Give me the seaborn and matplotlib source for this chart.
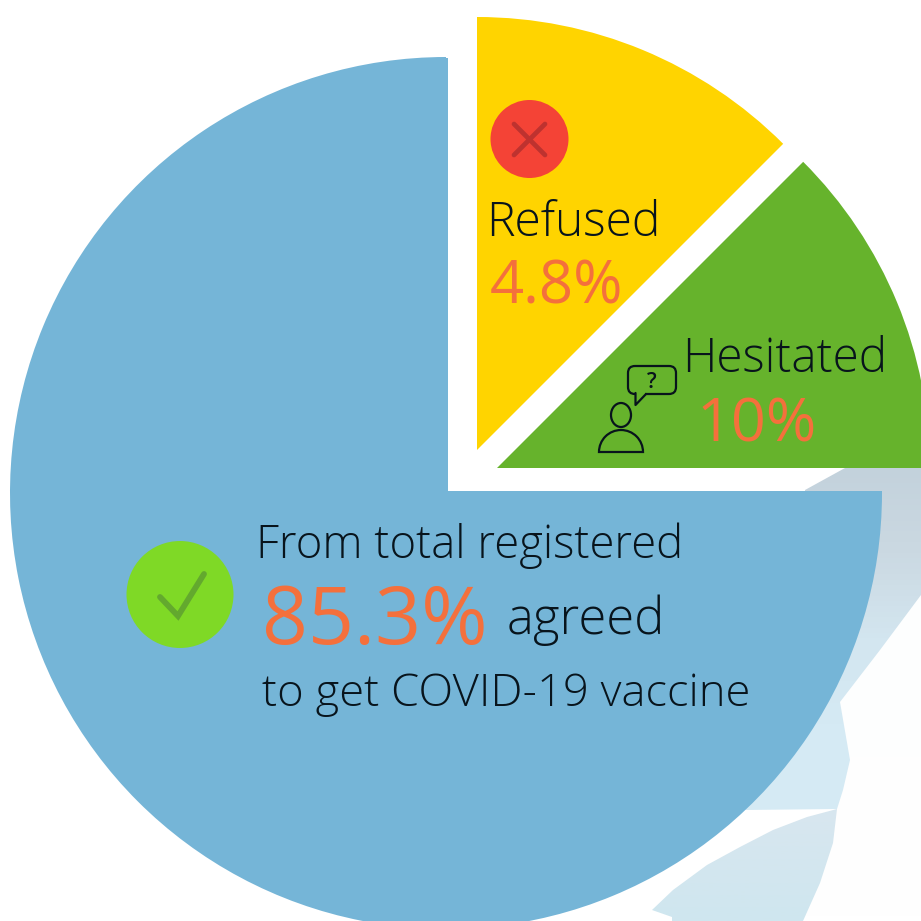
#!/usr/bin/env python3
"""Vaccine acceptance pie with exploded slices and painted-on labels."""

import numpy as np
import matplotlib
matplotlib.use('Agg')
import matplotlib.pyplot as plt
import seaborn as sns
from matplotlib.colors import LinearSegmentedColormap
from matplotlib.patches import Circle, Ellipse, FancyBboxPatch, Polygon, Rectangle, Wedge

# Slice sizes as drawn (the picture is not to scale with its printed numbers)
SLICE_NAMES = ['Agreed', 'Hesitated', 'Refused']
SLICE_SIZES = [75, 12.5, 12.5]
SLICE_COLORS = ['#75B5D7', '#66B32C', '#FFD400']

LABEL_TOTAL = 'From total registered'
LABEL_AGREED = '85.3%'
LABEL_AGREED_WORD = 'agreed'
LABEL_VACCINE = 'to get COVID-19 vaccine'
LABEL_REFUSED = 'Refused'
VALUE_REFUSED = '4.8%'
LABEL_HESITATED = 'Hesitated'
VALUE_HESITATED = '10%'

ORANGE = '#F4703C'
INK = '#08141C'
SIZE = 921


def py(y):
    """Pixel row of the 921 canvas to data y."""
    return SIZE - y


def pts(points):
    return [(x, py(y)) for x, y in points]


def gradient_shape(ax, points, colors):
    # faint mask photo behind the pie, gradient clipped to its outline
    cmap = LinearSegmentedColormap.from_list('mask', colors)
    ys = [p[1] for p in points]
    patch = Polygon(pts(points), closed=True, fc='none', ec='none')
    ax.add_patch(patch)
    im = ax.imshow(np.linspace(0, 1, 64).reshape(-1, 1), cmap=cmap, aspect='auto',
                   extent=(0, SIZE, py(max(ys)), py(min(ys))), zorder=0.5)
    im.set_clip_path(patch)


def draw_background(ax):
    gradient_shape(ax, [(840, 702), (921, 595), (921, 921), (803, 921), (837, 809),
                        (843, 790), (850, 760)],
                   ['#FDFEFE', '#FFFFFF'])
    gradient_shape(ax, [(805, 490), (845, 468), (921, 468), (921, 595), (880, 650), (840, 702),
                        (850, 760), (843, 790), (837, 809), (745, 810), (800, 700)],
                   ['#C3D2DC', '#CBD9E2', '#D3E6F0', '#D5EAF4', '#D5EAF4'])
    gradient_shape(ax, [(652, 910), (673, 890), (707, 865), (740, 847), (773, 830), (807, 817),
                        (837, 809), (833, 843), (820, 883), (803, 921), (672, 921), (672, 917)],
                   ['#D8E7EF', '#CFE6EF'])


def draw_icons(ax):
    # refused: red disc with a cross
    ax.add_patch(Circle((529.5, py(139)), 39, fc='#F44336', ec='none', zorder=4))
    for a, b in [((514, 124), (545, 155)), ((545, 124), (514, 155))]:
        ax.plot([a[0], b[0]], [py(a[1]), py(b[1])], color='#BE322F', lw=3.4,
                solid_capstyle='round', zorder=5)

    # agreed: green disc with a tick
    ax.add_patch(Circle((180, py(594.5)), 53.5, fc='#7FD926', ec='none', zorder=4))
    ax.plot([160, 178, 204], [py(597), py(616), py(574)], color='#63A92E', lw=4.2,
            solid_capstyle='round', solid_joinstyle='miter', zorder=5)

    # hesitated: person with a speech bubble
    lw = 1.6
    ax.add_patch(Ellipse((621, py(415)), 20, 24, fc='none', ec=INK, lw=lw, zorder=5))
    ax.add_patch(Wedge((621, py(452)), 22, 0, 180, fc='none', ec=INK, lw=lw, zorder=5))
    ax.add_patch(FancyBboxPatch((633, py(389)), 38, 18, boxstyle='round,pad=5,rounding_size=7',
                                fc='none', ec=INK, lw=lw, zorder=5))
    ax.add_patch(Polygon(pts([(636, 392), (636, 396), (645, 396), (645, 392)]), closed=True,
                         fc=SLICE_COLORS[1], ec='none', zorder=6))
    ax.plot([635.5, 635.5, 646], [py(393), py(405), py(394)], color=INK, lw=lw, zorder=7)
    ax.text(652, py(387.5), '?', fontsize=15.5, color=INK, ha='center', va='baseline',
            family='Open Sans', weight='semibold', zorder=7)


def main():
    sns.set_theme(style='white')
    plt.rcParams['font.family'] = ['Open Sans', 'DejaVu Sans']

    fig = plt.figure(figsize=(SIZE / 100, SIZE / 100), dpi=100, facecolor='white')
    ax = fig.add_axes([0, 0, 1, 1])

    wedges, _ = ax.pie(SLICE_SIZES, colors=SLICE_COLORS, startangle=90, counterclock=True,
                       radius=436, center=(446, py(493)),
                       wedgeprops={'linewidth': 0, 'zorder': 2})
    # slices are pulled out by hand, not along their bisector
    wedges[1].set_center((497, py(468)))
    wedges[1].set_radius(433)
    wedges[2].set_center((477, py(450)))
    wedges[2].set_radius(433)
    # the big slice is slightly off round, its inner corner sits 2px up and right of its centre
    ax.add_patch(Rectangle((446, py(493)), 2, 435, fc=SLICE_COLORS[0], ec='none', zorder=2))
    ax.add_patch(Rectangle((446, py(493)), 436, 2, fc=SLICE_COLORS[0], ec='none', zorder=2))

    draw_background(ax)

    ax.set_xlim(0, SIZE)
    ax.set_ylim(0, SIZE)
    ax.set_aspect('auto')
    ax.axis('off')

    draw_icons(ax)

    light = dict(family='Open Sans', weight='light', va='baseline', zorder=6, color=INK)
    value = dict(family='Open Sans', weight='normal', va='baseline', zorder=6, color=ORANGE)
    ax.text(486.5, py(236), LABEL_REFUSED, fontsize=34.6, **light)
    ax.text(490, py(303), VALUE_REFUSED, fontsize=43, **value)
    ax.text(682.5, py(372), LABEL_HESITATED, fontsize=34.3, **light)
    ax.text(697, py(442), VALUE_HESITATED, fontsize=44, **value)
    ax.text(256, py(558), LABEL_TOTAL, fontsize=32.8, **light)
    ax.text(262, py(644), LABEL_AGREED, fontsize=58, **value)
    ax.text(507, py(634), LABEL_AGREED_WORD, fontsize=36.6, **light)
    ax.text(262, py(706), LABEL_VACCINE, fontsize=32.7, **light)

    fig.savefig('out.png', dpi=100, facecolor='white')
    plt.close(fig)


if __name__ == '__main__':
    main()
